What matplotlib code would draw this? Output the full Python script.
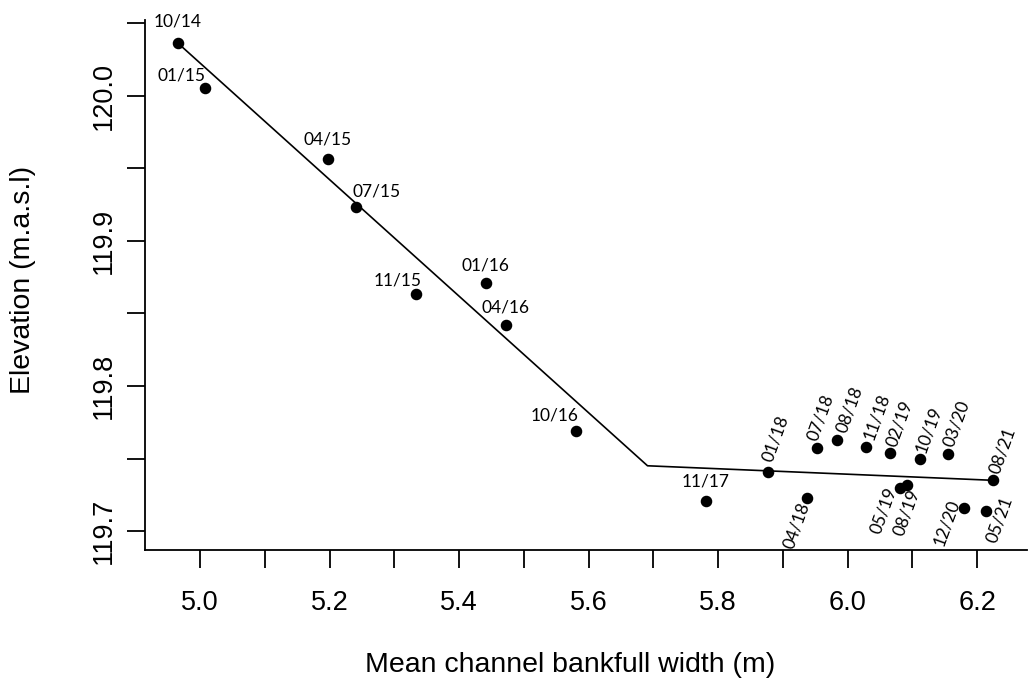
import matplotlib
matplotlib.use("Agg")
import matplotlib.pyplot as plt
import numpy as np

labels = ["10/14", "01/15", "04/15", "07/15", "11/15", "01/16", "04/16", "10/16",
          "11/17", "01/18", "04/18", "07/18", "08/18", "11/18", "02/19", "05/19",
          "08/19", "10/19", "03/20", "12/20", "05/21", "08/21"]
width = [4.966, 5.008, 5.197, 5.241, 5.333, 5.441, 5.472, 5.581,
         5.781, 5.877, 5.938, 5.952, 5.984, 6.029, 6.066, 6.081,
         6.091, 6.112, 6.155, 6.180, 6.213, 6.224]
elev = [120.036, 120.005, 119.956, 119.923, 119.863, 119.871, 119.842, 119.769,
        119.721, 119.741, 119.723, 119.757, 119.763, 119.758, 119.754, 119.730,
        119.732, 119.750, 119.753, 119.716, 119.714, 119.735]

fit_x = [4.966, 5.691, 6.224]
fit_y = [120.036, 119.745, 119.735]

xticks = [5.0, 5.1, 5.2, 5.3, 5.4, 5.5, 5.6, 5.7, 5.8, 5.9, 6.0, 6.1, 6.2]
xticklabels = ["5.0", "", "5.2", "", "5.4", "", "5.6", "", "5.8", "", "6.0", "", "6.2"]
yticks = [119.70, 119.75, 119.80, 119.85, 119.90, 119.95, 120.00, 120.05]
yticklabels = ["119.7", "", "119.8", "", "119.9", "", "120.0", ""]

# label placement: (dx, dy) in pixels of label centre, rotation
place = {
    "10/14": (0, 22, 0), "01/15": (-24, 13, 0), "04/15": (0, 20, 0),
    "07/15": (20, 16, 0), "11/15": (-18, 14, 0), "01/16": (0, 17, 0),
    "04/16": (0, 17, 0), "10/16": (-22, 15, 0), "11/17": (0, 19, 0),
    "01/18": (8, 33, 70), "07/18": (4, 31, 70), "08/18": (12, 30, 70),
    "11/18": (10, 30, 70), "02/19": (9, 29, 70), "10/19": (9, 29, 70),
    "03/20": (9, 31, 70), "08/21": (10, 30, 70),
    "04/18": (-11, -28, 70), "05/19": (-17, -23, 70), "08/19": (0, -28, 70),
    "12/20": (-18, -15, 70), "05/21": (14, -9, 70),
}

W, H = 1030, 688
fig = plt.figure(figsize=(W / 100, H / 100), dpi=100)
ax = fig.add_axes([145 / W, 138 / H, 882 / W, 530 / H])
ax.set_xlim(4.915, 6.277)
ax.set_ylim(119.687, 120.052)

ax.plot(fit_x, fit_y, color="black", lw=1.2)
ax.plot(width, elev, "o", color="black", ms=7.3)

for lab, x, y in zip(labels, width, elev):
    dx, dy, rot = place[lab]
    ax.annotate(lab, (x, y), xytext=(dx, dy), textcoords="offset pixels",
                ha="center", va="center", rotation=rot, rotation_mode="anchor",
                fontsize=12.5, family=["Lato", "DejaVu Sans"], fontstyle="normal",
                fontweight="normal", color="black")

for s in ["top", "right"]:
    ax.spines[s].set_visible(False)
for s in ["left", "bottom"]:
    ax.spines[s].set_linewidth(1.3)

ax.set_xticks(xticks)
ax.set_xticklabels(xticklabels, fontsize=19.5, family=["Liberation Sans"])
ax.set_yticks(yticks)
ax.set_yticklabels(yticklabels, fontsize=19.5, family=["Liberation Sans"],
                   rotation=90, va="center")
ax.tick_params(axis="both", length=13, width=1.3)
ax.tick_params(axis="x", pad=16)
ax.tick_params(axis="y", pad=7)

fig.text(570 / W, 1 - 665 / H, "Mean channel bankfull width (m)", ha="center",
         va="center", fontsize=20.5, family=["Liberation Sans"])
fig.text(23 / W, 1 - 280 / H, "Elevation (m.a.s.l)", ha="center", va="center",
         rotation=90, fontsize=20.5, family=["Liberation Sans"])

fig.savefig("out.png", dpi=100)
